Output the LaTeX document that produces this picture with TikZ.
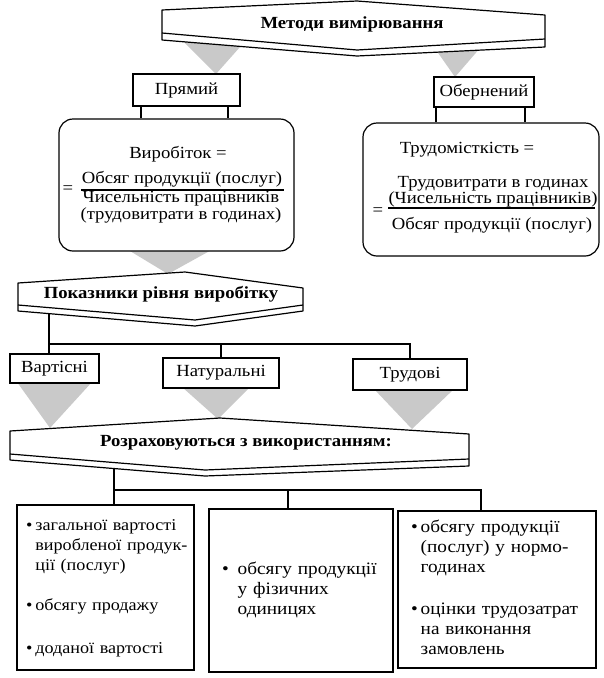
\documentclass[tikz,border=0pt]{standalone}
\usepackage{fontspec}
\setmainfont{Liberation Serif}[FakeStretch=1.1]
\begin{document}
\begin{tikzpicture}[x=1pt, y=-1pt, line width=1.2pt,
		every node/.style={inner sep=0pt, font=\fontsize{17}{19}\selectfont},
		box/.style={draw, fill=white},
		head/.style={font=\bfseries\fontsize{17}{19}\selectfont},
		frac/.style={align=center, font=\fontsize{17}{13}\selectfont},
		list/.style={draw, fill=white, inner xsep=9pt, align=left, font=\fontsize{17.5}{20}\selectfont},
		funnel/.style={fill=gray!42, draw=none},
		banner/.style={draw, fill=white, line join=round}]
			\useasboundingbox (0,0) rectangle (603,678);
			\fill[funnel] (180,38) -- (248,38) -- (216,74) -- cycle;
			\fill[funnel] (429,40) -- (487,40) -- (455,77) -- cycle;
			\fill[funnel] (125,248) -- (215,248) -- (168,274) -- cycle;
			\fill[funnel] (17,382) -- (92,382) -- (50,428) -- cycle;
			\fill[funnel] (182,387) -- (250,387) -- (218,419) -- cycle;
			\fill[funnel] (374,389) -- (454,389) -- (412,429) -- cycle;
			\draw[banner] (162,10) -- (357,1) -- (545,15) -- (545,47) -- (357,56) -- (162,40) -- cycle;
			\draw (162,33) -- (357,50) -- (545,39);
			\draw[banner] (18,283) -- (185,272) -- (303,288) -- (303,311) -- (195,326) -- (18,311) -- cycle;
			\draw (18,305) -- (195,320) -- (303,305);
			\draw[banner] (10,431) -- (220,418) -- (469,434) -- (469,466) -- (205,476) -- (10,460) -- cycle;
			\draw (10,454) -- (205,470) -- (469,459);
			\node (met) at (352,24) [head] {Методи вимірювання};
			\node (pok) at (161,294) [head] {Показники рівня виробітку};
			\node (roz) at (246,443) [head] {Розраховуються з використанням:};
			\node (prm) at (186.5,90) [box, minimum width=107pt, minimum height=32pt] {Прямий};
			\node (obr) at (484,92) [box, minimum width=100pt, minimum height=30pt] {Обернений};
			\node (vyr) at (176.5,185) [box, rounded corners=14pt, minimum width=235pt, minimum height=132pt] {};
			\node (trm) at (481,189.5) [box, rounded corners=14pt, minimum width=236pt, minimum height=133pt] {};
			\draw ([xshift=-45.5pt]prm.south) -- ([xshift=-45.5pt]prm.south |- vyr.north);
			\draw ([xshift=41.5pt]prm.south) -- ([xshift=41.5pt]prm.south |- vyr.north);
			\draw ([xshift=-48pt]obr.south) -- ([xshift=-48pt]obr.south |- trm.north);
			\draw ([xshift=41pt]obr.south) -- ([xshift=41pt]obr.south |- trm.north);
			\node (vyrt) at (178,154) {Виробіток =};
			\node (vyreq) at (68,190) {=};
			\node (vyrn) at (182,179) {Обсяг продукції (послуг)};
			\draw (81,190) -- (284,190);
			\node (vyrd) at (181,207) [frac] {Чисельність працівників\\(трудовитрати в годинах)};
			\node (trmt) at (467,150) {Трудомісткість =};
			\node (trmeq) at (378,212) {=};
			\node (trmn) at (493,192) [frac] {Трудовитрати в годинах\\(Чисельність працівників)};
			\draw (388,208) -- (595,208);
			\node (trmd) at (492,225) {Обсяг продукції (послуг)};
			\node (vart) at (54.5,368.5) [box, minimum width=89pt, minimum height=29pt] {Вартісні};
			\node (nat) at (221,373) [box, minimum width=116pt, minimum height=30pt] {Натуральні};
			\node (trud) at (410,374.5) [box, minimum width=114pt, minimum height=31pt] {Трудові};
			\coordinate (pokb) at (49,314);
			\coordinate (pokj) at (49,344);
			\draw (pokb) -- (pokb |- vart.north);
			\draw (pokj) -| (nat.north);
			\draw (pokj) -| (trud.north);
			\node (zag) at (105.5,587.5) [list, text width=159pt, minimum height=165pt, font=\fontsize{16.5}{20}\selectfont] {%
				\begin{tabular}{@{}l@{\hspace{3pt}}l@{}}
				\textbullet & загальної вартості\\
				& виробленої продук-\\
				& ції (послуг)\\[20pt]
				\textbullet & обсягу продажу\\[23pt]
				\textbullet & доданої вартості
				\end{tabular}};
			\node (fiz) at (301,590.5) [list, inner xsep=13pt, text width=158pt, minimum height=163pt] {%
				\begin{tabular}{@{}l@{\hspace{9pt}}l@{}}
				\textbullet & обсягу продукції\\
				& у фізичних\\
				& одиницях
				\end{tabular}};
			\node (norm) at (497,589.5) [list, inner xsep=13pt, text width=172pt, minimum height=157pt] {%
				\begin{tabular}{@{}l@{\hspace{3pt}}l@{}}
				\textbullet & обсягу продукції\\
				& (послуг) у нормо-\\
				& годинах\\[22pt]
				\textbullet & оцінки трудозатрат\\
				& на виконання\\
				& замовлень
				\end{tabular}};
			\coordinate (rozb) at (114,468);
			\coordinate (rozj) at (114,490);
			\draw (rozb) -- (rozb |- zag.north);
			\draw (rozj) -| ([xshift=-13pt]fiz.north);
			\draw (rozj) -| ([xshift=-16pt]norm.north);
		\end{tikzpicture}
\end{document}
